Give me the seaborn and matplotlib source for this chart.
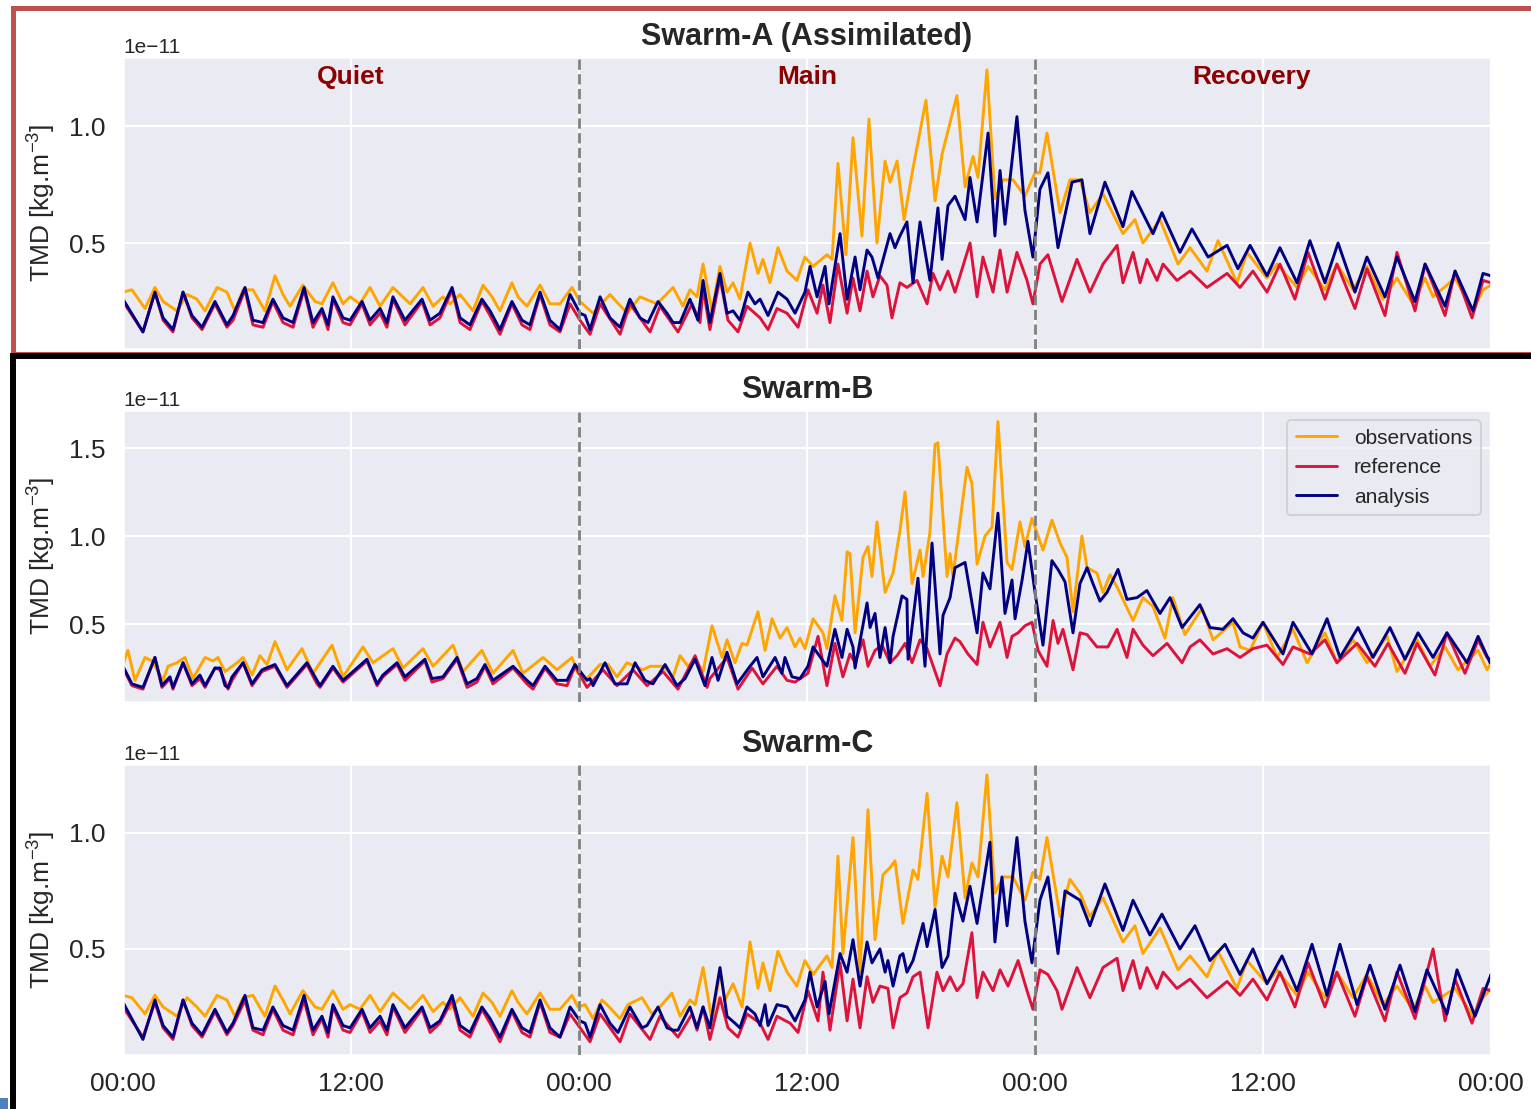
import numpy as np
import pandas as pd
import matplotlib
matplotlib.use("Agg")
import matplotlib.pyplot as plt
import seaborn as sns
from matplotlib.patches import Rectangle

# ---------------- data (hours since start, TMD in 1e-11 kg/m^3) ----------------
SERIES = ["observations", "reference", "analysis"]
COLORS = {"observations": "orange", "reference": "crimson", "analysis": "navy"}
TITLES = ["Swarm-A (Assimilated)", "Swarm-B", "Swarm-C"]
PHASES = ["Quiet", "Main", "Recovery"]
PHASE_HOURS = [12, 36, 59.4]
STORM_BOUNDS = [24, 48]
XTICK_HOURS = [0, 12, 24, 36, 48, 60, 72]
XTICK_LABELS = ["00:00", "12:00", "00:00", "12:00", "00:00", "12:00", "00:00"]

A_OBS = [(0.0,0.29),(0.47,0.30),(1.16,0.22),(1.68,0.31),(2.11,0.25),(2.84,0.21),(3.37,0.28),(3.89,0.26),(4.32,0.21),(4.95,0.31),(5.47,0.29),(5.89,0.21),(6.32,0.30),(6.84,0.30),(7.47,0.21),(8.0,0.36),(8.42,0.28),(8.79,0.23),(9.47,0.32),(10.11,0.25),(10.47,0.24),(11.05,0.33),(11.58,0.24),(11.95,0.27),(12.47,0.24),(13.0,0.31),(13.53,0.23),(14.21,0.31),(15.11,0.24),(15.79,0.31),(16.32,0.23),(16.84,0.27),(17.21,0.24),(17.74,0.28),(18.42,0.21),(18.95,0.32),(19.42,0.27),(19.84,0.21),(20.47,0.33),(20.79,0.27),(21.26,0.23),(21.95,0.32),(22.47,0.24),(23.0,0.24),(23.63,0.31),(24.05,0.25),(24.74,0.20),(25.63,0.28),(26.53,0.20),(27.21,0.27),(28.11,0.24),(28.95,0.31),(29.47,0.23),(29.84,0.30),(30.21,0.27),(30.53,0.41),(31.0,0.21),(31.42,0.40),(31.79,0.29),(32.11,0.33),(32.47,0.26),(33.0,0.50),(33.42,0.37),(33.68,0.43),(34.05,0.33),(34.47,0.48),(34.95,0.38),(35.47,0.34),(35.89,0.44),(36.32,0.40),(37.05,0.45),(37.32,0.43),(37.63,0.84),(38.05,0.45),(38.42,0.95),(38.89,0.53),(39.26,1.03),(39.68,0.50),(40.11,0.85),(40.37,0.76),(40.74,0.85),(41.11,0.60),(41.58,0.82),(42.26,1.11),(42.74,0.68),(43.11,0.88),(43.89,1.13),(44.32,0.74),(44.74,0.87),(45.0,0.78),(45.47,1.24),(45.89,0.69),(46.32,0.77),(46.84,0.77),(47.47,0.70),(48.0,0.80),(48.26,0.80),(48.63,0.97),(49.32,0.63),(49.84,0.77),(50.37,0.77),(50.89,0.63),(51.58,0.71),(52.63,0.54),(53.26,0.60),(53.68,0.50),(54.58,0.60),(55.53,0.41),(56.16,0.48),(57.05,0.38),(57.63,0.51),(58.63,0.33),(59.16,0.46),(60.21,0.35),(60.74,0.41),(61.79,0.31),(62.37,0.40),(63.26,0.30),(63.89,0.41),(64.74,0.30),(65.47,0.40),(66.32,0.26),(67.05,0.35),(67.89,0.24),(68.53,0.35),(68.95,0.27),(70.11,0.35),(71.05,0.21),(71.58,0.30),(72.0,0.32)]

A_REF = [(0.0,0.25),(1.05,0.12),(1.68,0.29),(2.11,0.17),(2.63,0.12),(3.16,0.29),(3.63,0.18),(4.16,0.13),(4.84,0.24),(5.47,0.14),(5.79,0.17),(6.42,0.30),(6.84,0.15),(7.37,0.14),(7.89,0.25),(8.42,0.16),(8.95,0.14),(9.53,0.30),(10.0,0.14),(10.47,0.21),(10.79,0.13),(11.05,0.26),(11.58,0.16),(11.95,0.15),(12.58,0.24),(13.0,0.15),(13.53,0.20),(13.89,0.14),(14.21,0.26),(14.84,0.15),(15.74,0.25),(16.16,0.15),(16.68,0.18),(17.32,0.30),(17.74,0.16),(18.26,0.13),(18.89,0.25),(19.32,0.19),(19.84,0.11),(20.47,0.24),(21.0,0.15),(21.42,0.13),(21.95,0.28),(22.47,0.15),(23.0,0.12),(23.53,0.24),(24.05,0.17),(24.58,0.11),(25.11,0.24),(26.16,0.11),(26.68,0.24),(27.74,0.12),(28.26,0.23),(29.21,0.12),(29.95,0.24),(30.37,0.16),(30.53,0.31),(30.89,0.13),(31.42,0.35),(31.84,0.17),(32.37,0.12),(32.84,0.23),(33.53,0.18),(33.95,0.13),(34.42,0.22),(34.95,0.20),(35.53,0.14),(36.05,0.30),(36.53,0.20),(36.84,0.32),(37.21,0.16),(37.63,0.41),(38.11,0.20),(38.42,0.35),(38.79,0.21),(39.16,0.38),(39.47,0.27),(39.84,0.36),(40.21,0.32),(40.47,0.18),(40.89,0.33),(41.26,0.31),(41.79,0.34),(42.32,0.24),(42.63,0.37),(43.0,0.30),(43.42,0.38),(43.79,0.29),(44.58,0.50),(44.95,0.27),(45.26,0.44),(45.79,0.29),(46.16,0.47),(46.53,0.29),(47.05,0.46),(47.58,0.34),(47.89,0.24),(48.26,0.41),(48.68,0.45),(49.42,0.25),(50.21,0.43),(50.89,0.29),(51.58,0.41),(52.32,0.49),(52.63,0.33),(53.16,0.46),(53.53,0.33),(53.89,0.43),(54.42,0.34),(54.74,0.41),(55.47,0.34),(56.16,0.38),(57.05,0.31),(58.11,0.37),(58.79,0.31),(59.47,0.38),(60.21,0.29),(60.89,0.41),(61.68,0.26),(62.37,0.46),(63.26,0.26),(63.89,0.41),(64.84,0.22),(65.47,0.39),(66.42,0.19),(67.05,0.46),(68.0,0.21),(68.53,0.41),(69.58,0.19),(70.11,0.38),(71.0,0.18),(71.58,0.34),(72.0,0.33)]

A_ANA = [(0.0,0.26),(1.05,0.12),(1.68,0.29),(2.11,0.18),(2.63,0.13),(3.16,0.29),(3.63,0.19),(4.16,0.14),(4.84,0.25),(5.47,0.15),(5.79,0.19),(6.42,0.31),(6.84,0.17),(7.37,0.16),(7.89,0.26),(8.42,0.18),(8.95,0.16),(9.53,0.31),(10.0,0.16),(10.47,0.22),(10.79,0.15),(11.05,0.27),(11.58,0.18),(11.95,0.17),(12.58,0.25),(13.0,0.17),(13.53,0.22),(13.89,0.16),(14.21,0.27),(14.84,0.17),(15.74,0.26),(16.16,0.17),(16.68,0.20),(17.32,0.31),(17.74,0.18),(18.26,0.15),(18.89,0.26),(19.32,0.21),(19.84,0.13),(20.47,0.25),(21.0,0.17),(21.42,0.15),(21.95,0.29),(22.47,0.17),(23.0,0.13),(23.53,0.28),(24.05,0.20),(24.32,0.19),(24.58,0.13),(25.11,0.27),(25.63,0.18),(26.16,0.14),(26.68,0.26),(27.21,0.18),(27.63,0.16),(28.16,0.25),(28.63,0.20),(28.95,0.16),(29.32,0.16),(29.84,0.26),(30.26,0.17),(30.53,0.34),(30.89,0.16),(31.42,0.37),(31.79,0.20),(32.11,0.21),(32.47,0.17),(32.89,0.29),(33.26,0.24),(33.53,0.26),(33.95,0.19),(34.47,0.29),(34.95,0.26),(35.37,0.20),(35.89,0.29),(36.16,0.40),(36.53,0.27),(36.95,0.40),(37.16,0.24),(37.74,0.54),(38.11,0.26),(38.53,0.44),(38.79,0.30),(39.16,0.47),(39.42,0.44),(39.74,0.35),(40.37,0.54),(40.63,0.48),(40.89,0.53),(41.26,0.59),(41.58,0.33),(41.95,0.59),(42.47,0.34),(42.89,0.65),(43.11,0.43),(43.42,0.66),(43.79,0.70),(44.32,0.60),(44.58,0.78),(44.95,0.59),(45.53,0.97),(45.89,0.53),(46.16,0.81),(46.42,0.58),(47.05,1.04),(47.47,0.64),(47.89,0.44),(48.26,0.73),(48.68,0.80),(49.21,0.48),(49.95,0.76),(50.47,0.77),(50.89,0.54),(51.68,0.76),(52.63,0.57),(53.1,0.72),(54.21,0.54),(54.68,0.63),(55.63,0.46),(56.26,0.56),(57.11,0.44),(58.11,0.49),(58.68,0.39),(59.32,0.49),(60.21,0.36),(60.89,0.48),(61.79,0.33),(62.47,0.51),(63.26,0.33),(63.95,0.50),(64.84,0.29),(65.47,0.44),(66.42,0.27),(67.05,0.44),(68.0,0.25),(68.53,0.41),(69.58,0.23),(70.11,0.38),(71.05,0.21),(71.58,0.37),(72.0,0.36)]

B_OBS = [(0.0,0.27),(0.26,0.35),(0.63,0.18),(1.16,0.31),(1.53,0.29),(2.11,0.18),(2.37,0.26),(2.84,0.28),(3.26,0.31),(3.68,0.19),(4.32,0.31),(4.74,0.29),(5.0,0.31),(5.37,0.23),(6.0,0.28),(6.32,0.31),(6.79,0.21),(7.21,0.32),(7.58,0.27),(8.0,0.40),(8.63,0.24),(9.42,0.36),(10.0,0.22),(11.0,0.38),(11.58,0.20),(12.63,0.37),(13.16,0.28),(14.21,0.36),(14.74,0.25),(15.79,0.36),(16.32,0.26),(17.37,0.38),(17.89,0.23),(18.89,0.35),(19.47,0.22),(20.53,0.35),(21.05,0.22),(22.11,0.31),(22.84,0.24),(23.63,0.31),(23.95,0.22),(24.42,0.19),(25.11,0.27),(25.53,0.27),(26.0,0.20),(26.53,0.28),(27.37,0.24),(27.74,0.26),(28.42,0.26),(28.95,0.20),(29.32,0.32),(29.74,0.26),(30.11,0.30),(30.53,0.23),(31.0,0.49),(31.53,0.31),(31.79,0.41),(32.21,0.28),(32.58,0.39),(32.84,0.38),(33.42,0.57),(33.79,0.35),(34.16,0.53),(34.58,0.42),(34.95,0.48),(35.37,0.37),(35.63,0.42),(35.89,0.36),(36.32,0.53),(36.84,0.45),(37.05,0.36),(37.47,0.66),(37.84,0.52),(38.11,0.91),(38.26,0.90),(38.53,0.45),(38.95,0.88),(39.21,0.94),(39.42,0.77),(39.68,1.08),(40.11,0.68),(40.53,0.79),(40.89,1.03),(41.16,1.25),(41.53,0.73),(41.95,0.92),(42.11,0.77),(42.47,1.02),(42.74,1.52),(42.89,1.53),(43.37,0.77),(43.53,0.90),(43.68,0.77),(44.42,1.39),(44.68,1.30),(44.95,0.84),(45.37,1.00),(45.74,1.05),(46.05,1.65),(46.53,0.85),(46.79,0.81),(47.21,1.08),(47.47,0.94),(47.84,1.10),(48.42,0.92),(48.89,1.09),(49.32,0.96),(49.68,0.88),(50.0,0.57),(50.47,1.00),(50.74,0.82),(51.26,0.79),(51.58,0.68),(51.95,0.78),(52.32,0.71),(53.16,0.52),(53.68,0.65),(54.21,0.60),(54.84,0.42),(55.26,0.65),(55.89,0.44),(56.79,0.59),(57.37,0.41),(58.42,0.51),(58.79,0.37),(59.32,0.35),(60.0,0.51),(60.74,0.31),(61.58,0.47),(62.32,0.28),(63.26,0.45),(63.89,0.28),(64.74,0.41),(65.47,0.28),(66.53,0.43),(67.05,0.23),(68.11,0.41),(68.79,0.26),(69.58,0.37),(70.26,0.24),(71.32,0.35),(71.79,0.24),(72.0,0.28)]

B_REF = [(0.0,0.25),(0.47,0.15),(1.05,0.13),(1.68,0.31),(2.05,0.14),(2.47,0.19),(2.63,0.13),(3.16,0.28),(3.63,0.15),(4.05,0.19),(4.32,0.14),(4.84,0.25),(5.11,0.24),(5.53,0.13),(5.74,0.18),(6.32,0.28),(6.79,0.15),(7.32,0.23),(8.0,0.26),(8.63,0.14),(9.68,0.27),(10.21,0.16),(10.37,0.14),(11.05,0.25),(11.58,0.17),(12.84,0.29),(13.37,0.15),(13.68,0.20),(14.42,0.27),(14.84,0.18),(15.89,0.29),(16.26,0.17),(16.84,0.19),(17.58,0.30),(18.11,0.14),(18.63,0.17),(19.05,0.26),(19.47,0.16),(20.53,0.25),(21.26,0.16),(21.58,0.13),(22.21,0.25),(22.84,0.16),(23.37,0.15),(23.79,0.26),(24.42,0.14),(25.26,0.24),(26.0,0.15),(26.84,0.24),(27.58,0.15),(28.42,0.23),(29.21,0.13),(30.11,0.32),(30.74,0.14),(30.89,0.19),(31.79,0.31),(32.37,0.13),(33.11,0.25),(33.68,0.16),(34.42,0.26),(34.95,0.18),(35.37,0.17),(36.05,0.22),(36.58,0.43),(37.05,0.15),(37.47,0.39),(37.89,0.20),(38.26,0.33),(38.53,0.28),(38.95,0.41),(39.21,0.26),(39.58,0.35),(39.95,0.38),(40.37,0.28),(40.74,0.32),(41.16,0.39),(41.53,0.28),(41.95,0.41),(42.32,0.36),(43.0,0.15),(43.37,0.33),(43.79,0.42),(44.05,0.40),(44.47,0.33),(44.95,0.27),(45.26,0.51),(45.63,0.37),(46.16,0.51),(46.53,0.31),(46.79,0.43),(47.11,0.45),(47.47,0.49),(47.84,0.51),(48.16,0.35),(48.63,0.26),(48.95,0.52),(49.21,0.39),(49.47,0.47),(50.0,0.24),(50.37,0.45),(50.74,0.44),(51.26,0.37),(51.84,0.37),(52.32,0.47),(52.84,0.31),(53.16,0.47),(53.68,0.38),(54.21,0.32),(54.95,0.39),(55.74,0.28),(56.16,0.37),(56.68,0.41),(57.37,0.33),(58.11,0.36),(58.79,0.31),(59.47,0.36),(60.21,0.38),(61.05,0.27),(61.58,0.37),(62.47,0.33),(63.26,0.41),(63.89,0.28),(64.95,0.39),(65.89,0.26),(66.58,0.39),(67.47,0.22),(68.11,0.39),(69.05,0.21),(69.68,0.45),(70.63,0.22),(71.32,0.41),(71.79,0.31),(72.0,0.30)]

B_ANA = [(0.0,0.26),(0.47,0.16),(1.05,0.14),(1.68,0.31),(2.05,0.15),(2.47,0.20),(2.63,0.14),(3.16,0.28),(3.63,0.16),(4.05,0.21),(4.32,0.15),(4.84,0.25),(5.11,0.25),(5.37,0.15),(5.53,0.14),(5.74,0.20),(6.32,0.28),(6.79,0.16),(7.32,0.24),(8.0,0.27),(8.63,0.15),(9.68,0.28),(10.21,0.18),(10.37,0.15),(11.05,0.26),(11.58,0.18),(12.84,0.30),(13.37,0.16),(13.68,0.21),(14.42,0.28),(14.84,0.20),(15.89,0.30),(16.26,0.19),(16.84,0.20),(17.58,0.31),(18.11,0.16),(18.63,0.19),(19.05,0.27),(19.47,0.18),(20.53,0.26),(21.26,0.18),(21.58,0.15),(22.21,0.26),(22.84,0.18),(23.37,0.18),(23.79,0.27),(24.42,0.18),(24.58,0.19),(24.74,0.15),(25.37,0.28),(25.89,0.16),(26.53,0.16),(26.95,0.28),(27.47,0.18),(27.89,0.16),(28.53,0.27),(29.16,0.15),(29.58,0.19),(30.11,0.30),(30.63,0.15),(31.0,0.31),(31.32,0.18),(31.79,0.34),(32.32,0.16),(33.0,0.26),(33.37,0.31),(33.68,0.20),(34.32,0.31),(34.68,0.22),(34.84,0.31),(35.21,0.20),(35.63,0.19),(36.05,0.26),(36.32,0.37),(36.58,0.33),(37.05,0.26),(37.47,0.47),(37.84,0.31),(38.11,0.47),(38.42,0.37),(38.53,0.25),(39.16,0.62),(39.32,0.48),(39.58,0.56),(39.84,0.31),(40.11,0.48),(40.37,0.28),(40.53,0.43),(41.0,0.66),(41.26,0.64),(41.32,0.30),(41.84,0.76),(42.21,0.26),(42.58,0.96),(43.0,0.33),(43.16,0.55),(43.53,0.65),(43.79,0.82),(44.32,0.85),(44.95,0.45),(45.26,0.79),(45.63,0.70),(46.05,1.13),(46.42,0.56),(46.79,0.75),(46.95,0.53),(47.32,0.75),(47.63,0.97),(48.0,0.68),(48.42,0.38),(48.89,0.86),(49.21,0.81),(49.58,0.74),(50.0,0.45),(50.37,0.73),(50.74,0.82),(51.05,0.73),(51.42,0.63),(51.79,0.68),(52.37,0.81),(52.84,0.64),(53.37,0.65),(53.89,0.69),(54.58,0.56),(55.11,0.65),(55.74,0.48),(56.68,0.61),(57.21,0.48),(57.89,0.47),(58.42,0.53),(58.95,0.45),(59.47,0.42),(60.0,0.51),(61.05,0.33),(61.58,0.51),(62.58,0.33),(63.37,0.53),(64.05,0.31),(65.0,0.48),(65.79,0.31),(66.68,0.48),(67.47,0.30),(68.16,0.45),(68.95,0.31),(69.68,0.45),(70.74,0.28),(71.32,0.43),(71.95,0.28),(72.0,0.28)]

C_OBS = [(0.0,0.30),(0.47,0.29),(1.16,0.22),(1.68,0.30),(2.11,0.25),(2.84,0.21),(3.37,0.29),(3.89,0.25),(4.32,0.21),(4.95,0.30),(5.47,0.28),(5.89,0.21),(6.32,0.29),(6.84,0.30),(7.47,0.21),(8.0,0.34),(8.42,0.28),(8.79,0.22),(9.47,0.32),(10.11,0.25),(10.47,0.24),(11.05,0.32),(11.58,0.24),(11.95,0.26),(12.47,0.24),(13.0,0.30),(13.53,0.23),(14.21,0.31),(15.11,0.24),(15.79,0.30),(16.32,0.23),(16.84,0.27),(17.21,0.24),(17.74,0.29),(18.42,0.21),(18.95,0.31),(19.42,0.27),(19.84,0.21),(20.47,0.32),(20.79,0.27),(21.26,0.22),(21.95,0.31),(22.47,0.24),(23.0,0.24),(23.63,0.30),(23.95,0.25),(24.32,0.26),(24.74,0.20),(25.21,0.28),(25.47,0.26),(26.16,0.20),(26.58,0.26),(27.32,0.29),(27.84,0.22),(28.26,0.25),(28.89,0.31),(29.32,0.21),(29.84,0.28),(30.11,0.26),(30.53,0.42),(31.0,0.19),(31.42,0.40),(31.68,0.28),(32.11,0.35),(32.58,0.25),(33.0,0.53),(33.42,0.33),(33.68,0.44),(34.05,0.32),(34.47,0.49),(34.95,0.40),(35.47,0.34),(35.89,0.45),(36.32,0.39),(37.05,0.47),(37.32,0.42),(37.63,0.90),(37.89,0.48),(38.42,0.98),(38.79,0.40),(39.21,1.10),(39.58,0.54),(40.0,0.82),(40.37,0.85),(40.63,0.88),(41.05,0.61),(41.58,0.84),(41.84,0.80),(42.32,1.17),(42.74,0.68),(43.11,0.90),(43.42,0.81),(43.89,1.13),(44.32,0.72),(44.68,0.87),(45.0,0.81),(45.47,1.25),(45.89,0.74),(46.32,0.81),(46.84,0.81),(47.47,0.71),(47.89,0.83),(48.26,0.80),(48.63,0.98),(49.32,0.64),(49.84,0.80),(50.37,0.74),(50.89,0.64),(51.58,0.72),(52.63,0.53),(53.26,0.60),(53.68,0.48),(54.58,0.59),(55.53,0.41),(56.16,0.47),(57.05,0.38),(57.63,0.49),(58.63,0.33),(59.16,0.45),(60.21,0.35),(60.74,0.41),(61.79,0.30),(62.37,0.40),(63.26,0.29),(63.89,0.40),(64.74,0.29),(65.47,0.39),(66.32,0.26),(67.05,0.34),(67.89,0.24),(68.53,0.34),(68.95,0.27),(70.11,0.33),(71.05,0.21),(71.58,0.29),(72.0,0.33)]

C_REF = [(0.0,0.25),(1.05,0.12),(1.68,0.27),(2.11,0.16),(2.63,0.11),(3.16,0.28),(3.63,0.17),(4.16,0.12),(4.84,0.23),(5.47,0.13),(5.79,0.17),(6.42,0.28),(6.84,0.15),(7.37,0.13),(7.89,0.24),(8.42,0.15),(8.95,0.13),(9.53,0.28),(10.0,0.13),(10.47,0.20),(10.79,0.12),(11.05,0.25),(11.58,0.15),(11.95,0.14),(12.58,0.23),(13.0,0.14),(13.53,0.19),(13.89,0.13),(14.21,0.25),(14.84,0.14),(15.74,0.24),(16.16,0.14),(16.68,0.18),(17.32,0.28),(17.74,0.15),(18.26,0.12),(18.89,0.24),(19.32,0.18),(19.84,0.10),(20.47,0.23),(21.0,0.14),(21.42,0.12),(21.95,0.27),(22.47,0.14),(23.0,0.12),(23.53,0.22),(24.58,0.10),(25.11,0.22),(26.16,0.10),(26.68,0.22),(27.74,0.11),(28.26,0.21),(29.21,0.12),(29.95,0.22),(30.21,0.15),(30.53,0.25),(30.89,0.11),(31.42,0.29),(31.84,0.16),(32.37,0.12),(32.84,0.22),(33.53,0.18),(33.95,0.11),(34.42,0.21),(35.11,0.18),(35.53,0.14),(36.05,0.32),(36.58,0.19),(36.84,0.40),(37.21,0.15),(37.74,0.44),(38.11,0.19),(38.42,0.37),(38.79,0.16),(39.16,0.38),(39.47,0.27),(39.84,0.34),(40.26,0.33),(40.53,0.16),(40.89,0.29),(41.26,0.31),(41.58,0.38),(41.95,0.40),(42.37,0.16),(42.84,0.40),(43.16,0.32),(43.53,0.38),(43.89,0.32),(44.21,0.35),(44.68,0.57),(44.95,0.29),(45.26,0.40),(45.79,0.32),(46.16,0.41),(46.58,0.34),(47.11,0.45),(47.58,0.32),(47.89,0.24),(48.26,0.41),(48.68,0.39),(49.16,0.32),(49.42,0.24),(50.21,0.42),(50.89,0.29),(51.58,0.42),(52.32,0.46),(52.63,0.32),(53.16,0.45),(53.53,0.33),(53.89,0.42),(54.42,0.33),(54.74,0.40),(55.47,0.33),(56.16,0.37),(57.05,0.29),(58.11,0.36),(58.79,0.30),(59.47,0.37),(60.21,0.28),(60.89,0.40),(61.68,0.25),(62.37,0.44),(63.26,0.25),(63.89,0.40),(64.84,0.21),(65.47,0.38),(66.42,0.19),(67.05,0.40),(68.0,0.20),(68.95,0.50),(69.58,0.19),(70.11,0.37),(71.0,0.18),(71.58,0.33),(72.0,0.32)]

C_ANA = [(0.0,0.27),(1.05,0.11),(1.68,0.28),(2.11,0.17),(2.63,0.12),(3.16,0.28),(3.63,0.18),(4.16,0.13),(4.84,0.24),(5.47,0.14),(5.79,0.18),(6.42,0.30),(6.84,0.16),(7.37,0.15),(7.89,0.25),(8.42,0.17),(8.95,0.15),(9.53,0.30),(10.0,0.15),(10.47,0.21),(10.79,0.14),(11.05,0.26),(11.58,0.17),(11.95,0.16),(12.58,0.24),(13.0,0.16),(13.53,0.21),(13.89,0.15),(14.21,0.26),(14.84,0.16),(15.74,0.25),(16.16,0.16),(16.68,0.19),(17.32,0.30),(17.74,0.17),(18.26,0.14),(18.89,0.25),(19.32,0.20),(19.84,0.12),(20.47,0.24),(21.0,0.16),(21.42,0.14),(21.95,0.28),(22.47,0.16),(23.0,0.12),(23.53,0.25),(24.05,0.19),(24.32,0.18),(24.58,0.12),(25.11,0.26),(25.63,0.18),(26.05,0.14),(26.68,0.25),(27.32,0.16),(27.58,0.17),(28.16,0.25),(28.63,0.16),(28.95,0.15),(29.21,0.15),(29.84,0.25),(30.21,0.16),(30.53,0.25),(30.89,0.16),(31.42,0.42),(31.79,0.21),(32.21,0.18),(32.47,0.16),(32.84,0.25),(33.26,0.22),(33.53,0.17),(33.79,0.26),(33.95,0.17),(34.42,0.26),(34.95,0.25),(35.37,0.19),(35.89,0.28),(36.16,0.40),(36.53,0.25),(36.95,0.36),(37.16,0.22),(37.74,0.48),(38.11,0.40),(38.42,0.54),(38.79,0.34),(39.16,0.53),(39.42,0.44),(39.84,0.50),(40.11,0.40),(40.26,0.45),(40.53,0.34),(40.89,0.47),(41.05,0.48),(41.26,0.40),(41.58,0.45),(42.11,0.61),(42.32,0.51),(42.74,0.67),(43.11,0.42),(43.42,0.47),(43.79,0.74),(44.21,0.62),(44.58,0.77),(44.95,0.61),(45.63,0.96),(45.89,0.53),(46.26,0.81),(46.53,0.60),(47.05,0.98),(47.47,0.62),(47.84,0.44),(48.26,0.71),(48.68,0.81),(49.21,0.48),(49.58,0.75),(50.37,0.71),(50.89,0.60),(51.68,0.78),(52.63,0.58),(53.16,0.71),(54.05,0.56),(54.68,0.65),(55.63,0.50),(56.42,0.60),(57.21,0.45),(58.0,0.52),(58.79,0.39),(59.47,0.50),(60.21,0.35),(61.0,0.47),(61.79,0.32),(62.58,0.52),(63.37,0.30),(64.05,0.52),(64.95,0.26),(65.63,0.43),(66.42,0.24),(67.21,0.43),(68.0,0.23),(68.63,0.41),(69.68,0.22),(70.21,0.41),(71.16,0.21),(72.0,0.39)]

PANEL_DATA = [(A_OBS, A_REF, A_ANA), (B_OBS, B_REF, B_ANA), (C_OBS, C_REF, C_ANA)]
YLIMS = [(0.047, 1.295), (0.057, 1.716), (0.043, 1.297)]
YTICKS = [[0.5, 1.0], [0.5, 1.0, 1.5], [0.5, 1.0]]
SCALE = 1e-11

# ---------------- style ----------------
sns.set_theme(style="darkgrid", context="talk")
plt.rcParams["font.family"] = ["Liberation Sans", "DejaVu Sans"]
plt.rcParams["mathtext.fontset"] = "custom"
plt.rcParams["mathtext.rm"] = "Liberation Sans"
plt.rcParams["mathtext.it"] = "Liberation Sans:italic"
plt.rcParams["mathtext.bf"] = "Liberation Sans:bold"

W, H = 1531, 1109
fig = plt.figure(figsize=(W / 100, H / 100), dpi=100, facecolor="white")

# axes boxes in pixels: (left, top, right, bottom)
boxes = [(123, 57, 1491, 349), (123, 410, 1491, 702), (123, 764, 1491, 1055)]


def to_frame(obs, ref, ana):
    rows = []
    for name, pts in zip(SERIES, (obs, ref, ana)):
        for t, v in pts:
            rows.append({"hours": t, "tmd": v * SCALE, "series": name})
    return pd.DataFrame(rows)


axes = []
for i, (box, data) in enumerate(zip(boxes, PANEL_DATA)):
    l, t, r, b = box
    rect = [l / W, 1 - b / H, (r - l) / W, (b - t) / H]
    ax = fig.add_axes(rect, sharex=axes[0] if axes else None)
    axes.append(ax)
    df = to_frame(*data)
    sns.lineplot(data=df, x="hours", y="tmd", hue="series", hue_order=SERIES,
                 palette=COLORS, linewidth=2.1, estimator=None, sort=True,
                 ax=ax, legend=(i == 1))
    for xb in STORM_BOUNDS:
        ax.axvline(xb, color="grey", linestyle="--", linewidth=2.0, zorder=5)
    ax.set_xlim(XTICK_HOURS[0], XTICK_HOURS[-1])
    lo, hi = YLIMS[i]
    ax.set_ylim(lo * SCALE, hi * SCALE)
    ax.set_yticks(np.array(YTICKS[i]) * SCALE)
    ax.set_xticks(XTICK_HOURS)
    ax.set_xticklabels(XTICK_LABELS)
    ax.tick_params(labelsize=19)
    if i < 2:
        ax.tick_params(labelbottom=False)
    ax.set_xlabel("")
    ax.set_ylabel("TMD [kg.m$^{-3}$]", fontsize=19, labelpad=8)
    ax.set_title(TITLES[i], fontsize=22, fontweight="bold", pad=9)
    ax.yaxis.get_offset_text().set_fontsize(15)
    if i == 0:
        for xh, lab in zip(PHASE_HOURS, PHASES):
            ax.text(xh, 0.93, lab, transform=ax.get_xaxis_transform(),
                    ha="center", va="center", color="darkred",
                    fontsize=19, fontweight="bold")
    if i == 1:
        handles, labels = ax.get_legend_handles_labels()
        ax.legend(handles, labels, loc="upper right", fontsize=15,
                  frameon=True, borderaxespad=0.5)

# screenshot frames
fig.add_artist(Rectangle((12.5 / W, 1 - 354 / H), 1.1, 346.5 / H,
                         transform=fig.transFigure, fill=False,
                         edgecolor="#C0504D", linewidth=3.6, clip_on=False))
fig.add_artist(Rectangle((13 / W, -0.2), 1.1, 0.2 + (1 - 355.5 / H),
                         transform=fig.transFigure, fill=False,
                         edgecolor="black", linewidth=4.3, clip_on=False))
fig.add_artist(Rectangle((0, 0), 8 / W, 11 / H, transform=fig.transFigure,
                         facecolor="#4F81BD", edgecolor="none"))

fig.savefig("out.png", dpi=100, facecolor="white")
